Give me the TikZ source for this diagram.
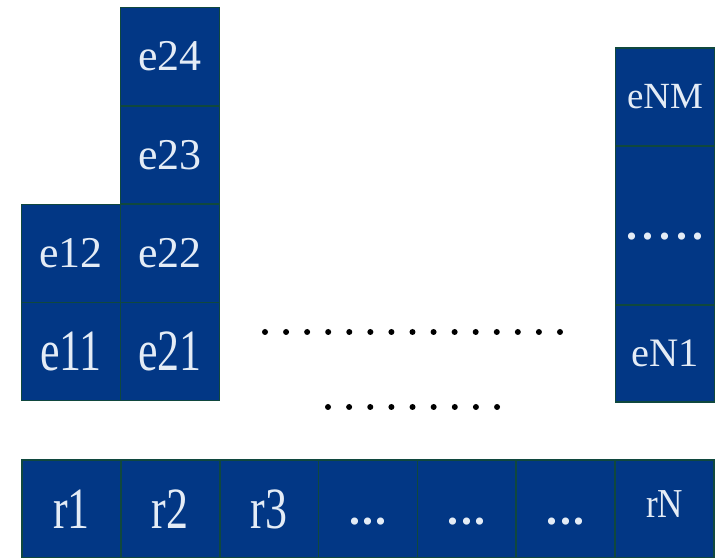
\documentclass[tikz,border=0pt]{standalone}
\usepackage{graphicx}
\usepackage{fontspec}
\setmainfont{Liberation Serif}
\usetikzlibrary{positioning}
\definecolor{cellB}{RGB}{2,55,133}
\definecolor{cellG}{RGB}{16,72,62}
\definecolor{txtW}{RGB}{228,236,246}
\newcommand{\tallt}[1]{\scalebox{1}[1.33]{#1}}
\newcommand{\rdots}{\textbf{.\kern0.7pt.\kern0.7pt.}}

\begin{document}
\begin{tikzpicture}[x=1cm,y=1cm,
   cell/.style={rectangle,draw=cellG,line width=0.5pt,fill=cellB,text=txtW,
     inner sep=0pt,minimum width=0.99cm,minimum height=0.98cm,
     font=\fontsize{12.5}{14}\selectfont},
   rcell/.style={cell,minimum width=0.9886cm},
   rdot/.style={rcell,text height=9pt,text depth=0pt},
   blk/.style={fill=black}]
\useasboundingbox (0,0) rectangle (7.17,5.58);

%% ---- columns of e ----
\node[cell] (e11) at (0.71,2.065) {\tallt{e11}};
\node[cell] (e12) at (0.71,3.045) {e12};
\node[cell] (e21) at (1.70,2.065) {\tallt{e21}};
\node[cell] (e22) at (1.70,3.045) {e22};
\node[cell] (e23) at (1.70,4.030) {e23};
\node[cell] (e24) at (1.70,5.015) {e24};

%% ---- last column ----
\node[cell,font=\fontsize{10.5}{12}\selectfont] (eNM) at (6.65,4.61) {eNM};
\node[cell,minimum height=1.59cm,text height=7.7pt,text depth=0pt] (eNd) at (6.65,3.325)
   {\textbf{.\kern1.6pt.\kern1.6pt.\kern1.6pt.\kern1.6pt.}};
\node[cell,minimum height=0.97cm,font=\fontsize{11.5}{13}\selectfont] (eN1) at (6.65,2.045) {eN1};

%% ---- dotted rows between ----
\foreach \i in {0,...,14}
  \fill[blk] ({2.65+\i*0.2107},{5.58-3.32}) circle (0.03);
\foreach \i in {0,...,8}
  \fill[blk] ({3.28+\i*0.2113},{5.58-4.07}) circle (0.03);

%% ---- bottom row r ----
\node[rcell] (r1) at (0.7143,0.49) {\tallt{r1}};
\node[rcell] (r2) at (1.7029,0.49) {\tallt{r2}};
\node[rcell] (r3) at (2.6914,0.49) {\tallt{r3}};
\node[rdot]  (r4) at (3.6800,0.49) {\rdots};
\node[rdot]  (r5) at (4.6686,0.49) {\rdots};
\node[rdot]  (r6) at (5.6571,0.49) {\rdots};
\node[rcell,font=\fontsize{10}{12}\selectfont] (rN) at (6.6457,0.49) {\raisebox{3pt}{\scalebox{1}[1.17]{rN}}};
\end{tikzpicture}
\end{document}
